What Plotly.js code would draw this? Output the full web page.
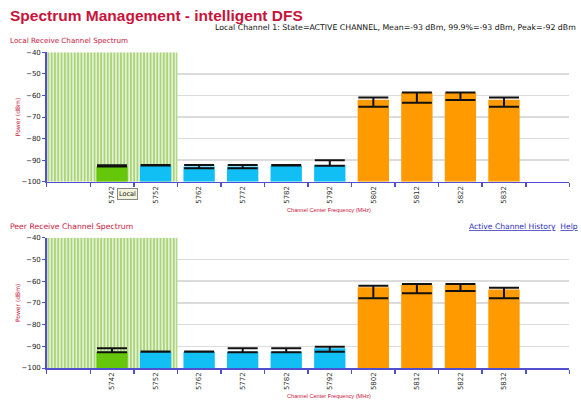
<!DOCTYPE html>
<html>
<head>
<meta charset="utf-8">
<script src="https://cdn.plot.ly/plotly-3.0.1.min.js"></script>
<style>
html,body{margin:0;padding:0;background:#fff;}
#chart{width:581px;height:400px;}
</style>
</head>
<body>
<div id="chart"></div>
<script>
// ---- data ----
const channels = ['5742','5752','5762','5772','5782','5792','5802','5812','5822','5832'];
const barColors = ['#66c70a','#12bff5','#12bff5','#12bff5','#12bff5','#12bff5','#ff9a00','#ff9a00','#ff9a00','#ff9a00'];

const localPower   = [-93, -92.5, -93, -93, -92.5, -92.3, -62, -58.7, -58.7, -62];
const localErrUp   = [0.6, 0.2, 0.7, 0.7, 0.2, 2.3, 1.0, 0.1, 0.1, 1.0];
const localErrDown = [0,   0,   0.8, 0.8, 0,   0.3, 3.2, 4.7, 3.4, 3.2];

const peerPower    = [-92.5, -92.5, -92.5, -92.5, -92.5, -90.9, -62.8, -61.8, -61.8, -63.8];
const peerErrUp    = [1.6, 0.1, 0.1, 1.6, 1.6, 0.7, 0.7, 0.5, 0.5, 0.8];
const peerErrDown  = [0.3, 0,   0,   0.3, 0.3, 1.6, 5.1, 3.8, 2.7, 4.1];

const activeBandSlots = 3;   // highlighted band covers the first three slots
const yMin = -100, yMax = -40;

// ---- build ----
const xPos = channels.map((c, i) => i + 1);
const red = '#c8143c';
const axisBlue = '#4f4fd0';
const font = 'DejaVu Sans, Verdana, sans-serif';
const narrow = 'Liberation Sans, Arial, sans-serif';

function bandTrace(xa, ya) {
  return {
    type: 'bar', x: [(activeBandSlots - 1) / 2], y: [yMax - yMin], base: [yMin],
    width: [activeBandSlots], xaxis: xa, yaxis: ya, hoverinfo: 'skip', showlegend: false,
    marker: {color: '#e6f3d3', line: {width: 0},
      pattern: {shape: '|', fgcolor: '#aad47a', bgcolor: '#e8f4d8', size: 3.3, solidity: 0.55}}
  };
}
function dataTrace(vals, up, down, xa, ya) {
  return {
    type: 'bar', x: xPos, y: vals.map(v => v - yMin), base: vals.map(() => yMin),
    width: 0.72, xaxis: xa, yaxis: ya, showlegend: false,
    marker: {color: barColors, line: {width: 0}},
    error_y: {type: 'data', symmetric: false, array: up, arrayminus: down,
      color: '#111', thickness: 2, width: 15}
  };
}

const xAxisBase = {
  range: [-0.5, channels.length + 1.5], tickvals: xPos, ticktext: channels,
  tickangle: -90, ticks: '', showgrid: false, zeroline: false,
  showline: true, linecolor: axisBlue, linewidth: 1.5,
  tickfont: {family: font, size: 7, color: '#333'},
  minor: {tickmode: 'linear', tick0: -0.5, dtick: 1, ticks: 'outside', ticklen: 4,
          tickcolor: axisBlue, tickwidth: 1.5, showgrid: false},
  fixedrange: true
};
const yAxisBase = {
  range: [yMin, yMax], dtick: 10, showline: true, linecolor: axisBlue, linewidth: 1.5,
  ticks: 'outside', ticklen: 3, tickcolor: axisBlue, gridcolor: '#dcdcdc', gridwidth: 1.5,
  zeroline: false, tickfont: {family: font, size: 7, color: '#222'},
  title: {text: 'Power (dBm)', font: {family: font, size: 6, color: red}, standoff: 0},
  fixedrange: true
};

const xd = [46.7 / 581, 569.3 / 581];
const layout = {
  width: 581, height: 400, margin: {l: 0, r: 0, t: 0, b: 0},
  paper_bgcolor: '#fff', plot_bgcolor: '#fff', barmode: 'overlay',
  font: {family: font},
  xaxis: Object.assign({}, xAxisBase, {domain: xd, anchor: 'y'}),
  yaxis: Object.assign({}, yAxisBase, {domain: [218.3 / 400, 347.7 / 400], anchor: 'x'}),
  xaxis2: Object.assign({}, xAxisBase, {domain: xd, anchor: 'y2'}),
  yaxis2: Object.assign({}, yAxisBase, {domain: [32 / 400, 162.3 / 400], anchor: 'x2'}),
  annotations: [
    {text: '<b>Spectrum Management - intelligent DFS</b>', xref: 'paper', yref: 'paper',
     x: 8 / 581, y: 1 - 5 / 400, xanchor: 'left', yanchor: 'top', showarrow: false,
     font: {family: narrow, size: 15.5, color: red}},
    {text: 'Local Channel 1: State=ACTIVE CHANNEL, Mean=-93 dBm, 99.9%=-93 dBm, Peak=-92 dBm',
     xref: 'paper', yref: 'paper', x: 578 / 581, y: 1 - 21.5 / 400, xanchor: 'right', yanchor: 'top',
     showarrow: false, font: {family: font, size: 7.8, color: '#111'}},
    {text: 'Local Receive Channel Spectrum', xref: 'paper', yref: 'paper',
     x: 8 / 581, y: 1 - 34 / 400, xanchor: 'left', yanchor: 'top', showarrow: false,
     font: {family: font, size: 7.2, color: red}},
    {text: 'Peer Receive Channel Spectrum', xref: 'paper', yref: 'paper',
     x: 8 / 581, y: 1 - 220 / 400, xanchor: 'left', yanchor: 'top', showarrow: false,
     font: {family: font, size: 7.7, color: red}},
    {text: '<u>Active Channel History</u>  <u>Help</u>', xref: 'paper', yref: 'paper',
     x: 580 / 581, y: 1 - 220 / 400, xanchor: 'right', yanchor: 'top', showarrow: false,
     font: {family: font, size: 7.6, color: '#3030c0'}},
    {text: 'Channel Center Frequency (MHz)', xref: 'paper', yref: 'paper',
     x: 329 / 581, y: 1 - 205 / 400, xanchor: 'center', yanchor: 'top', showarrow: false,
     font: {family: narrow, size: 5.6, color: red}},
    {text: 'Channel Center Frequency (MHz)', xref: 'paper', yref: 'paper',
     x: 329 / 581, y: 1 - 391 / 400, xanchor: 'center', yanchor: 'top', showarrow: false,
     font: {family: narrow, size: 5.6, color: red}},
    {text: 'Local', xref: 'paper', yref: 'paper', x: 127.5 / 581, y: 1 - 194 / 400,
     xanchor: 'center', yanchor: 'middle', showarrow: false,
     font: {family: font, size: 6.5, color: '#222'}, bgcolor: '#f4f4dc',
     bordercolor: '#888', borderwidth: 1, borderpad: 1}
  ]
};

const traces = [
  bandTrace('x', 'y'),
  dataTrace(localPower, localErrUp, localErrDown, 'x', 'y'),
  bandTrace('x2', 'y2'),
  dataTrace(peerPower, peerErrUp, peerErrDown, 'x2', 'y2')
];

Plotly.newPlot('chart', traces, layout, {displayModeBar: false, staticPlot: true});
</script>
</body>
</html>
